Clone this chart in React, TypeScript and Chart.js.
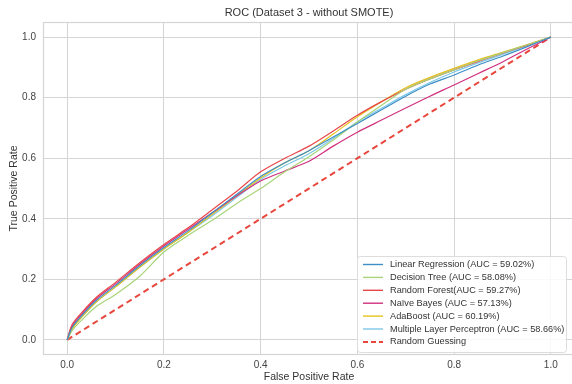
import React, { useEffect, useRef } from "react";
import { Chart, registerables } from "chart.js";

Chart.register(...registerables);

const TITLE = "ROC (Dataset 3 - without SMOTE)";
const X_TITLE = "False Positive Rate";
const Y_TITLE = "True Positive Rate";
const TICKS = [0, 0.2, 0.4, 0.6, 0.8, 1.0];

const FPR = [0, 0.01, 0.03, 0.06, 0.1, 0.15, 0.2, 0.25, 0.3, 0.35, 0.4, 0.45, 0.5, 0.55, 0.6, 0.65, 0.7, 0.75, 0.8, 0.85, 0.9, 0.95, 1.0];

const LR_TPR = [0, 0.04, 0.08, 0.13, 0.18, 0.245, 0.305, 0.36, 0.42, 0.48, 0.54, 0.585, 0.625, 0.67, 0.715, 0.76, 0.805, 0.845, 0.875, 0.908, 0.937, 0.968, 1];
const DT_TPR = [0, 0.03, 0.065, 0.11, 0.15, 0.21, 0.29, 0.345, 0.395, 0.45, 0.5, 0.555, 0.605, 0.66, 0.72, 0.775, 0.828, 0.862, 0.892, 0.922, 0.948, 0.974, 1];
const RF_TPR = [0, 0.05, 0.09, 0.14, 0.19, 0.255, 0.315, 0.37, 0.43, 0.49, 0.555, 0.6, 0.64, 0.69, 0.742, 0.787, 0.828, 0.862, 0.892, 0.92, 0.947, 0.973, 1];
const NB_TPR = [0, 0.045, 0.085, 0.135, 0.185, 0.25, 0.31, 0.365, 0.42, 0.475, 0.525, 0.558, 0.59, 0.64, 0.686, 0.726, 0.766, 0.805, 0.842, 0.88, 0.918, 0.96, 1];
const ADA_TPR = [0, 0.035, 0.075, 0.125, 0.175, 0.24, 0.3, 0.355, 0.415, 0.475, 0.535, 0.585, 0.625, 0.68, 0.737, 0.787, 0.833, 0.867, 0.897, 0.925, 0.95, 0.975, 1];
const MLP_TPR = [0, 0.04, 0.075, 0.125, 0.175, 0.24, 0.3, 0.355, 0.41, 0.47, 0.53, 0.575, 0.615, 0.665, 0.72, 0.765, 0.81, 0.85, 0.885, 0.915, 0.943, 0.972, 1];
const RANDOM_X = [0, 1];
const RANDOM_Y = [0, 1];

const LABELS = [
  "Linear Regression (AUC = 59.02%)",
  "Decision Tree (AUC = 58.08%)",
  "Random Forest(AUC = 59.27%)",
  "Naïve Bayes (AUC = 57.13%)",
  "AdaBoost (AUC = 60.19%)",
  "Multiple Layer Perceptron (AUC = 58.66%)",
  "Random Guessing",
];
const COLORS = ["#3d8fc6", "#a8d47a", "#e8474a", "#d1307f", "#e6c21c", "#7cc8e8", "#e8473e"];

const FONT = "'Liberation Sans', Arial, sans-serif";

function pts(xs: number[], ys: number[]) {
  return xs.map((x, i) => ({ x, y: ys[i] }));
}

const framePlugin = {
  id: "framePlugin",
  beforeDraw(chart: any) {
    const { ctx } = chart;
    ctx.save();
    ctx.fillStyle = "#ffffff";
    ctx.fillRect(0, 0, chart.width, chart.height);
    ctx.restore();
  },
  afterDraw(chart: any) {
    const { ctx, chartArea: a } = chart;
    ctx.save();
    ctx.strokeStyle = "#d5d5d5";
    ctx.lineWidth = 1.2;
    ctx.strokeRect(a.left + 0.5, a.top + 0.5, a.right - a.left - 1, a.bottom - a.top - 1);
    // title
    ctx.fillStyle = "#333333";
    ctx.font = `11px ${FONT}`;
    ctx.textAlign = "center";
    ctx.textBaseline = "middle";
    ctx.fillText(TITLE, (a.left + a.right) / 2, 13);
    // legend
    const ds = chart.data.datasets;
    const rowH = 12.9;
    const w = 209;
    const h = 96;
    const x0 = a.right - 9 - w;
    const y0 = a.bottom - 3 - h;
    ctx.fillStyle = "rgba(255,255,255,0.85)";
    ctx.strokeStyle = "#dddddd";
    ctx.lineWidth = 1;
    ctx.beginPath();
    (ctx as any).roundRect(x0 + 0.5, y0 + 0.5, w, h, 3);
    ctx.fill();
    ctx.stroke();
    ctx.font = `9.2px ${FONT}`;
    ctx.textAlign = "left";
    for (let i = 0; i < ds.length; i++) {
      const y = y0 + 8.5 + i * rowH;
      ctx.strokeStyle = ds[i].borderColor;
      ctx.lineWidth = ds[i].borderDash ? 2 : 1.4;
      ctx.setLineDash(ds[i].borderDash ? [5, 3] : []);
      ctx.beginPath();
      ctx.moveTo(x0 + 6, y);
      ctx.lineTo(x0 + 26, y);
      ctx.stroke();
      ctx.setLineDash([]);
      ctx.fillStyle = "#333333";
      ctx.fillText(ds[i].label, x0 + 33, y);
    }
    ctx.restore();
  },
};

export default function App() {
  const ref = useRef<HTMLCanvasElement>(null);
  useEffect(() => {
    if (!ref.current) return;
    const series = [LR_TPR, DT_TPR, RF_TPR, NB_TPR, ADA_TPR, MLP_TPR];
    const datasets: any[] = series.map((s, i) => ({
      label: LABELS[i],
      data: pts(FPR, s),
      borderColor: COLORS[i],
      backgroundColor: COLORS[i],
      borderWidth: 1.2,
      pointRadius: 0,
      showLine: true,
      tension: 0.3,
      fill: false,
    }));
    datasets.push({
      label: LABELS[6],
      data: pts(RANDOM_X, RANDOM_Y),
      borderColor: COLORS[6],
      backgroundColor: COLORS[6],
      borderWidth: 2,
      borderDash: [6, 4],
      pointRadius: 0,
      showLine: true,
      fill: false,
    });
    const tickFont = { family: FONT, size: 10 };
    const chart = new Chart(ref.current, {
      type: "scatter",
      data: { datasets },
      plugins: [framePlugin],
      options: {
        animation: false,
        responsive: false,
        layout: { padding: { top: 22, left: 0, right: 0, bottom: 0 } },
        plugins: { legend: { display: false }, title: { display: false }, tooltip: { enabled: false } },
        scales: {
          x: {
            type: "linear",
            min: -0.05,
            max: 1.05,
            afterBuildTicks: (s: any) => { s.ticks = TICKS.map((v) => ({ value: v })); },
            afterFit: (s: any) => { s.height = 29; },
            grid: { color: "#d5d5d5", lineWidth: 1, drawTicks: false },
            border: { display: false },
            ticks: { font: tickFont, color: "#444444", padding: 4, maxRotation: 0, callback: (v: any) => Number(v).toFixed(1) },
            title: { display: true, text: X_TITLE, font: { family: FONT, size: 10.5 }, color: "#333333", padding: { top: 2, bottom: 1 } },
          },
          y: {
            type: "linear",
            min: -0.05,
            max: 1.05,
            afterBuildTicks: (s: any) => { s.ticks = TICKS.map((v) => ({ value: v })); },
            afterFit: (s: any) => { s.width = 43; },
            grid: { color: "#d5d5d5", lineWidth: 1, drawTicks: false },
            border: { display: false },
            ticks: { font: tickFont, color: "#444444", padding: 7, callback: (v: any) => Number(v).toFixed(1) },
            title: { display: true, text: Y_TITLE, font: { family: FONT, size: 10.5 }, color: "#333333", padding: { top: 8, bottom: 0 } },
          },
        },
      },
    });
    return () => chart.destroy();
  }, []);
  return (
    <div style={{ position: "fixed", left: 0, top: 0, width: 572, height: 384, overflow: "hidden", background: "#fff" }}>
      <canvas ref={ref} width={575} height={384} style={{ display: "block", width: 575, height: 384 }} />
    </div>
  );
}
